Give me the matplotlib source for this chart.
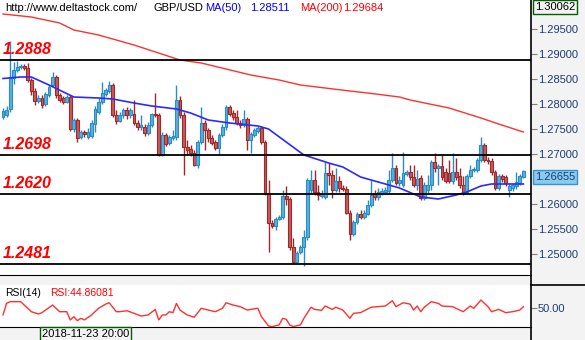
import matplotlib.pyplot as plt
import numpy as np

# GBP/USD hourly candles (oldest first)
opens = [1.2774, 1.2778, 1.2790, 1.2852, 1.2868, 1.2874, 1.2876, 1.2872, 1.2848, 1.2826,
         1.2806, 1.2812, 1.2800, 1.2818, 1.2838, 1.2854, 1.2818, 1.2812, 1.2804, 1.2814,
         1.2750, 1.2768, 1.2734, 1.2744, 1.2734, 1.2736, 1.2760, 1.2784, 1.2804, 1.2820,
         1.2826, 1.2838, 1.2778, 1.2766, 1.2778, 1.2788, 1.2778, 1.2780, 1.2762, 1.2754,
         1.2754, 1.2742, 1.2758, 1.2780, 1.2778, 1.2698, 1.2738, 1.2722, 1.2732, 1.2734,
         1.2808, 1.2778, 1.2714, 1.2710, 1.2702, 1.2678, 1.2724, 1.2762, 1.2748, 1.2732,
         1.2724, 1.2712, 1.2738, 1.2754, 1.2794, 1.2782, 1.2774, 1.2762, 1.2758, 1.2770,
         1.2728, 1.2738, 1.2746, 1.2752, 1.2724, 1.2622, 1.2562, 1.2556, 1.2570, 1.2574,
         1.2616, 1.2610, 1.2514, 1.2484, 1.2504, 1.2514, 1.2534, 1.2628, 1.2648, 1.2624,
         1.2616, 1.2614, 1.2662, 1.2658, 1.2628, 1.2646, 1.2632, 1.2630, 1.2582, 1.2540,
         1.2564, 1.2580, 1.2574, 1.2580, 1.2598, 1.2620, 1.2614, 1.2622, 1.2624, 1.2626,
         1.2648, 1.2672, 1.2642, 1.2638, 1.2660, 1.2664, 1.2654, 1.2638, 1.2652, 1.2612,
         1.2628, 1.2638, 1.2684, 1.2672, 1.2676, 1.2664, 1.2662, 1.2646, 1.2664, 1.2656,
         1.2638, 1.2624, 1.2656, 1.2668, 1.2668, 1.2688, 1.2718, 1.2688, 1.2686, 1.2664,
         1.2632, 1.2656, 1.2654, 1.2628, 1.2632, 1.2636, 1.2642, 1.2654]
highs = [1.2792, 1.2796, 1.2926, 1.2884, 1.2886, 1.2880, 1.2880, 1.2882, 1.2852, 1.2832,
         1.2818, 1.2818, 1.2824, 1.2838, 1.2864, 1.2858, 1.2822, 1.2816, 1.2818, 1.2818,
         1.2772, 1.2772, 1.2748, 1.2748, 1.2752, 1.2768, 1.2796, 1.2812, 1.2844, 1.2832,
         1.2846, 1.2842, 1.2788, 1.2784, 1.2792, 1.2794, 1.2792, 1.2808, 1.2768, 1.2778,
         1.2760, 1.2764, 1.2782, 1.2822, 1.2782, 1.2744, 1.2742, 1.2738, 1.2748, 1.2838,
         1.2816, 1.2784, 1.2728, 1.2718, 1.2708, 1.2728, 1.2794, 1.2768, 1.2752, 1.2738,
         1.2728, 1.2742, 1.2760, 1.2798, 1.2798, 1.2788, 1.2788, 1.2768, 1.2788, 1.2774,
         1.2744, 1.2752, 1.2756, 1.2756, 1.2728, 1.2648, 1.2568, 1.2574, 1.2578, 1.2628,
         1.2636, 1.2614, 1.2532, 1.2506, 1.2518, 1.2548, 1.2652, 1.2668, 1.2668, 1.2638,
         1.2628, 1.2684, 1.2682, 1.2668, 1.2672, 1.2656, 1.2638, 1.2636, 1.2588, 1.2568,
         1.2584, 1.2588, 1.2588, 1.2608, 1.2648, 1.2628, 1.2632, 1.2632, 1.2634, 1.2668,
         1.2702, 1.2678, 1.2656, 1.2704, 1.2668, 1.2678, 1.2678, 1.2668, 1.2658, 1.2644,
         1.2658, 1.2688, 1.2702, 1.2680, 1.2700, 1.2672, 1.2688, 1.2702, 1.2692, 1.2672,
         1.2656, 1.2660, 1.2678, 1.2674, 1.2692, 1.2734, 1.2722, 1.2694, 1.2692, 1.2668,
         1.2660, 1.2660, 1.2658, 1.2642, 1.2642, 1.2664, 1.2660, 1.2668]
lows = [1.2770, 1.2774, 1.2784, 1.2840, 1.2864, 1.2870, 1.2868, 1.2844, 1.2818, 1.2798,
        1.2802, 1.2792, 1.2796, 1.2814, 1.2834, 1.2812, 1.2804, 1.2800, 1.2802, 1.2746,
        1.2744, 1.2724, 1.2730, 1.2734, 1.2730, 1.2732, 1.2744, 1.2780, 1.2800, 1.2816,
        1.2822, 1.2774, 1.2760, 1.2764, 1.2772, 1.2770, 1.2772, 1.2758, 1.2748, 1.2748,
        1.2736, 1.2738, 1.2754, 1.2774, 1.2696, 1.2696, 1.2716, 1.2718, 1.2728, 1.2728,
        1.2772, 1.2658, 1.2698, 1.2696, 1.2676, 1.2672, 1.2720, 1.2708, 1.2724, 1.2718,
        1.2708, 1.2698, 1.2734, 1.2748, 1.2776, 1.2768, 1.2758, 1.2752, 1.2754, 1.2708,
        1.2702, 1.2734, 1.2742, 1.2720, 1.2618, 1.2504, 1.2552, 1.2548, 1.2568, 1.2570,
        1.2598, 1.2508, 1.2480, 1.2480, 1.2500, 1.2476, 1.2528, 1.2622, 1.2618, 1.2608,
        1.2612, 1.2610, 1.2638, 1.2612, 1.2624, 1.2624, 1.2626, 1.2580, 1.2528, 1.2536,
        1.2560, 1.2570, 1.2570, 1.2578, 1.2594, 1.2608, 1.2608, 1.2618, 1.2622, 1.2620,
        1.2644, 1.2638, 1.2636, 1.2634, 1.2656, 1.2648, 1.2634, 1.2628, 1.2608, 1.2608,
        1.2622, 1.2628, 1.2664, 1.2638, 1.2648, 1.2642, 1.2642, 1.2640, 1.2648, 1.2632,
        1.2618, 1.2620, 1.2652, 1.2664, 1.2664, 1.2684, 1.2684, 1.2680, 1.2658, 1.2628,
        1.2628, 1.2644, 1.2636, 1.2614, 1.2626, 1.2630, 1.2638, 1.2652]
closes = [1.2786, 1.2788, 1.2852, 1.2868, 1.2874, 1.2876, 1.2872, 1.2848, 1.2826, 1.2806,
          1.2812, 1.2798, 1.2820, 1.2834, 1.2854, 1.2818, 1.2808, 1.2804, 1.2814, 1.2750,
          1.2768, 1.2732, 1.2744, 1.2740, 1.2744, 1.2762, 1.2790, 1.2804, 1.2822, 1.2828,
          1.2838, 1.2778, 1.2766, 1.2778, 1.2788, 1.2778, 1.2788, 1.2762, 1.2754, 1.2758,
          1.2742, 1.2758, 1.2780, 1.2778, 1.2698, 1.2738, 1.2720, 1.2734, 1.2736, 1.2808,
          1.2778, 1.2714, 1.2708, 1.2702, 1.2678, 1.2724, 1.2762, 1.2748, 1.2732, 1.2722,
          1.2712, 1.2738, 1.2754, 1.2794, 1.2780, 1.2774, 1.2762, 1.2758, 1.2770, 1.2728,
          1.2740, 1.2748, 1.2752, 1.2724, 1.2622, 1.2562, 1.2556, 1.2570, 1.2574, 1.2616,
          1.2610, 1.2514, 1.2484, 1.2502, 1.2514, 1.2534, 1.2648, 1.2648, 1.2624, 1.2618,
          1.2620, 1.2662, 1.2658, 1.2628, 1.2646, 1.2632, 1.2630, 1.2582, 1.2540, 1.2564,
          1.2580, 1.2574, 1.2582, 1.2598, 1.2618, 1.2614, 1.2624, 1.2626, 1.2628, 1.2648,
          1.2672, 1.2642, 1.2648, 1.2662, 1.2664, 1.2654, 1.2638, 1.2650, 1.2612, 1.2638,
          1.2638, 1.2684, 1.2672, 1.2676, 1.2654, 1.2646, 1.2646, 1.2664, 1.2654, 1.2638,
          1.2624, 1.2656, 1.2668, 1.2670, 1.2688, 1.2718, 1.2688, 1.2686, 1.2664, 1.2632,
          1.2656, 1.2650, 1.2642, 1.2636, 1.2638, 1.2644, 1.2656, 1.26655]

# moving averages (candle index, value)
ma50_idx = [0, 5, 8, 13, 20, 27, 31, 37, 42, 49, 53, 58, 64, 72, 75, 80, 85, 92, 96, 101,
            106, 112, 118, 123, 128, 131, 135, 138, 147]
ma50_val = [1.2851, 1.2854, 1.2854, 1.2838, 1.2814, 1.2812, 1.2810, 1.2802, 1.2796, 1.2790,
            1.2782, 1.2768, 1.2762, 1.2756, 1.2750, 1.2724, 1.2698, 1.2682, 1.2674, 1.2654,
            1.2644, 1.2632, 1.2614, 1.2610, 1.2618, 1.2624, 1.2636, 1.2640, 1.2640]
ma200_idx = [0, 8, 16, 20, 27, 37, 50, 56, 70, 78, 84, 98, 103, 112, 115, 126, 135, 140, 147]
ma200_val = [1.2980, 1.2974, 1.2962, 1.2948, 1.2938, 1.2918, 1.2888, 1.2882, 1.2858, 1.2848,
             1.2838, 1.2826, 1.2822, 1.2814, 1.2808, 1.2792, 1.2772, 1.2760, 1.2744]

# RSI(14)
rsi_idx = [0, 1, 2, 5, 6, 8, 10, 11, 14, 16, 18, 19, 20, 21, 22, 23, 25, 27, 29, 30,
           32, 33, 35, 37, 39, 41, 43, 44, 45, 46, 47, 48, 49, 50, 52, 54, 56, 58, 60, 62,
           63, 65, 67, 69, 70, 72, 73, 75, 76, 78, 79, 80, 81, 82, 84, 85, 87, 88, 90, 91,
           93, 94, 96, 98, 99, 101, 104, 108, 110, 111, 113, 115, 116, 117, 118, 119, 121, 123, 124, 127,
           129, 130, 132, 133, 135, 137, 138, 140, 142, 144, 146, 147]
rsi_val = [44.9, 53.4, 54.7, 54.7, 52.2, 47.3, 45.6, 46.6, 52.2, 47.3, 47.3, 41.2, 43.6, 40.7, 42.4, 41.2, 44.9, 49.8, 52.9, 53.9,
           47.3, 47.3, 48.0, 46.1, 44.1, 44.9, 49.0, 41.2, 44.9, 44.9, 47.3, 46.6, 53.4, 48.5, 44.9, 43.2, 49.8, 48.5, 47.3, 49.8,
           53.9, 52.2, 51.0, 48.5, 49.0, 49.8, 43.6, 36.8, 36.3, 37.5, 42.4, 41.7, 37.5, 36.3, 37.5, 42.4, 50.6, 49.0, 48.3, 51.5,
           49.0, 50.6, 48.5, 42.4, 46.1, 46.6, 50.6, 51.5, 55.4, 51.0, 53.9, 52.9, 48.5, 51.5, 47.3, 50.6, 54.7, 53.4, 51.5, 51.0,
           48.5, 47.3, 51.5, 49.8, 55.9, 51.0, 47.3, 49.0, 46.6, 47.3, 48.5, 51.0]

levels = [1.2888, 1.2698, 1.2620, 1.2481]
price_ticks = [1.250, 1.255, 1.260, 1.270, 1.275, 1.280, 1.285, 1.290, 1.295]

W, H = 585, 340
BG = '#f3f3f3'
UP_FILL, UP_EDGE = '#5ab0dd', '#2b8cc4'
DN_FILL, DN_EDGE = '#c85a5a', '#a02828'

fig = plt.figure(figsize=(W / 100, H / 100), dpi=100, facecolor=BG)
plt.rcParams['font.family'] = ['Liberation Sans', 'DejaVu Sans']

chart_w = 531 / W
ax = fig.add_axes([0, 65 / H, chart_w, 275 / H])
ax_rsi = fig.add_axes([0, 13 / H, chart_w, 42 / H])

n = len(closes)
x = np.arange(n)
o = np.array(opens)
c = np.array(closes)
up = c >= o
cols_e = np.where(up, UP_EDGE, DN_EDGE)
cols_f = np.where(up, UP_FILL, DN_FILL)

ax.vlines(x, lows, highs, colors=cols_e, linewidth=1, zorder=2)
body_lo = np.minimum(o, c)
body_h = np.maximum(np.abs(c - o), 0.00008)
ax.bar(x, body_h, bottom=body_lo, width=0.8, color=cols_f, edgecolor=cols_e,
       linewidth=0.8, zorder=3)

ax.plot(ma200_idx, ma200_val, color='#ff3030', lw=1.0, zorder=4)
ax.plot(ma50_idx, ma50_val, color='#2a2aff', lw=1.2, zorder=4)

for lv in levels:
    ax.axhline(lv, color='black', lw=1.3, zorder=5)
    ax.annotate(f'{lv:.4f}', xy=(0, lv), xycoords=('axes fraction', 'data'),
                xytext=(3, 3), textcoords='offset pixels', va='bottom', ha='left',
                color='#ff0000', fontsize=11.5, fontweight='bold', fontstyle='italic')

xlim = (-0.85, 149.15)
ax.set_xlim(*xlim)
ax.set_ylim(1.2458, 1.3008)
ax.set_facecolor('white')
for s in ['top', 'left', 'right']:
    ax.spines[s].set_visible(False)
ax.spines['bottom'].set_color('black')
ax.set_xticks([])
ax.yaxis.tick_right()
ax.set_yticks(price_ticks)
ax.set_yticklabels([f'{t:.5f}' for t in price_ticks])
ax.tick_params(axis='y', length=4, width=0.8, color='#808080', pad=1,
               labelsize=8, labelcolor='#1c3c78')

# RSI panel
ax_rsi.plot(rsi_idx, rsi_val, color='#ff3030', lw=1.0)
ax_rsi.set_xlim(*xlim)
ax_rsi.set_ylim(36, 67)
ax_rsi.set_facecolor('white')
for s in ['top', 'left', 'right']:
    ax_rsi.spines[s].set_visible(False)
ax_rsi.set_xticks([])
ax_rsi.yaxis.tick_right()
ax_rsi.set_yticks([50])
ax_rsi.set_yticklabels(['50.00'])
ax_rsi.tick_params(axis='y', length=4, width=0.8, color='#808080', pad=1,
                   labelsize=8, labelcolor='#1c3c78')

# frame lines
fig.add_artist(plt.Line2D([chart_w, chart_w], [0, 1], color='black', lw=1.2))
fig.add_artist(plt.Line2D([chart_w, 1], [55 / H, 55 / H], color='black', lw=1.2))


def fx(px):
    return px / W


def fy(py):
    return 1 - py / H


# header
fig.text(fx(5), fy(8), 'http://www.deltastock.com/', fontsize=8, va='center', color='black')
fig.text(fx(153), fy(8), 'GBP/USD', fontsize=8, va='center', color='black')
fig.text(fx(205), fy(8), 'MA(50)', fontsize=8, va='center', color='#0000ff')
fig.text(fx(250), fy(8), '1.28511', fontsize=8, va='center', color='#0000ff')
fig.text(fx(300), fy(8), 'MA(200)', fontsize=8, va='center', color='#ff0000')
fig.text(fx(343), fy(8), '1.29684', fontsize=8, va='center', color='#ff0000')

fig.text(fx(535), fy(7), '1.30062', fontsize=8, va='center', color='black',
         bbox=dict(boxstyle='square,pad=0.15', fc=BG, ec='#006000', lw=1))
ax.annotate(f'{closes[-1]:.5f}', xy=(1, closes[-1]), xycoords=('axes fraction', 'data'),
            xytext=(4, -1), textcoords='offset pixels', va='top', ha='left', fontsize=8,
            color='#1c3c78', bbox=dict(boxstyle='square,pad=0.2', fc='#87cbee', ec='#3a8fd0', lw=1),
            annotation_clip=False)

fig.text(fx(5), fy(293), 'RSI(14)', fontsize=7.5, va='center', color='black')
fig.text(fx(50), fy(293), 'RSI:44.86081', fontsize=7.5, va='center', color='#ff0000')

fig.text(fx(42), fy(334), '2018-11-23 20:00', fontsize=8, va='center', color='black',
         bbox=dict(boxstyle='square,pad=0.2', fc=BG, ec='#006000', lw=1))

fig.savefig('out.png', dpi=100, facecolor=BG)
